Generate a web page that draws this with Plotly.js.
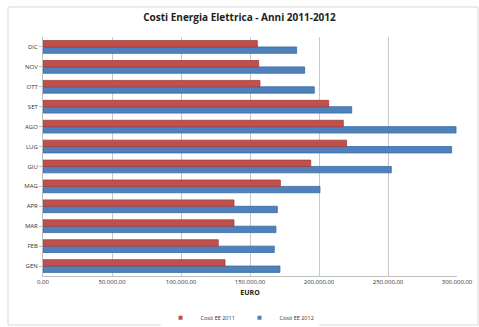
<!DOCTYPE html>
<html><head><meta charset="utf-8">
<script src="https://cdn.plot.ly/plotly-3.0.1.min.js"></script>
<style>html,body{margin:0;padding:0;background:#fff}#c{width:479px;height:327px}</style>
</head><body><div id="c"></div>
<script>
const months = ["GEN","FEB","MAR","APR","MAG","GIU","LUG","AGO","SET","OTT","NOV","DIC"];
const costi2011 = [131900,127000,138400,138400,172000,194000,220000,217600,207000,157200,156300,155300];
const costi2012 = [171700,167600,168800,169800,200700,252400,296100,299300,223700,196600,189600,183800];
const xTicks = [0,50000,100000,150000,200000,250000,300000];
const seriesNames = ['Costi EE 2011','Costi EE 2012'];
const colors = ['#c0504d','#4f81bd'];

const data = [
  {type:'bar', orientation:'h', name:seriesNames[1], y:months, x:costi2012, showlegend:false,
   marker:{color:colors[1], line:{color:'#3a6aa3', width:0.8}}},
  {type:'bar', orientation:'h', name:seriesNames[0], y:months, x:costi2011, showlegend:false,
   marker:{color:colors[0], line:{color:'#a33e3b', width:0.8}}},
  {type:'scatter', mode:'markers', name:seriesNames[0], x:[null], y:[null], showlegend:true,
   marker:{symbol:'square', size:4, color:colors[0]}},
  {type:'scatter', mode:'markers', name:seriesNames[1], x:[null], y:[null], showlegend:true,
   marker:{symbol:'square', size:4, color:colors[1]}}
];
const layout = {
  width:479, height:327,
  margin:{l:43, r:22, t:37, b:51, autoexpand:false},
  paper_bgcolor:'#fff', plot_bgcolor:'#fff',
  separators:',.',
  barmode:'group', bargap:0.36, bargroupgap:0,
  title:{text:'Costi Energia Elettrica - Anni 2011-2012', x:0.5, xanchor:'center', y:0.945, yanchor:'middle',
         font:{family:'Open Sans, sans-serif', size:10, color:'#222', weight:'bold'}},
  xaxis:{range:[0,300000], tickvals:xTicks, tickformat:',.2f', showgrid:true, gridcolor:'#c8c8c8', gridwidth:1,
         zeroline:false, showline:true, linecolor:'#bfbfbf', ticks:'', tickfont:{family:'Open Sans, sans-serif', size:6, color:'#333'},
         title:{text:'EURO', font:{family:'Open Sans, sans-serif', size:7, color:'#222', weight:'bold'}, standoff:4}},
  yaxis:{type:'category', categoryorder:'array', categoryarray:months, showgrid:false, showline:true, linecolor:'#bfbfbf',
         ticks:'outside', ticklen:3, tickcolor:'#bfbfbf', tickfont:{family:'Open Sans, sans-serif', size:6, color:'#333'}},
  showlegend:true,
  legend:{orientation:'h', x:0.5, xanchor:'center', xref:'container', y:0.028, yref:'container', yanchor:'middle',
          font:{family:'Open Sans, sans-serif', size:5.5, color:'#333'}, itemwidth:30, entrywidth:34, tracegroupgap:0},
  shapes:[{type:'rect', xref:'paper', yref:'paper', x0:-0.0845, x1:1.0507, y0:-0.205, y1:1.1255,
           line:{color:'#d9d9d9', width:1}, fillcolor:'rgba(0,0,0,0)', layer:'below'}]
};
Plotly.newPlot('c', data, layout, {staticPlot:true, displayModeBar:false});
</script></body></html>
